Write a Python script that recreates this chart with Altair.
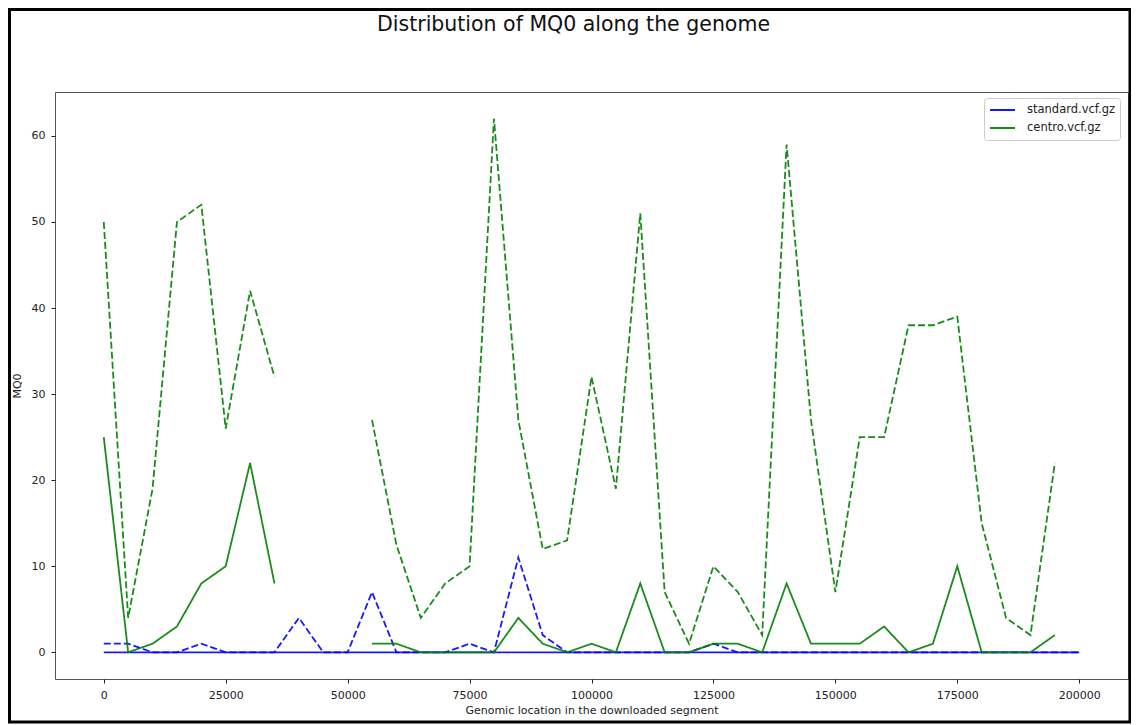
import altair as alt
import pandas as pd

# genomic windows (start of each 5 kb bin)
positions = [0, 5000, 10000, 15000, 20000, 25000, 30000, 35000, 40000, 45000,
             50000, 55000, 60000, 65000, 70000, 75000, 80000, 85000, 90000, 95000,
             100000, 105000, 110000, 115000, 120000, 125000, 130000, 135000, 140000, 145000,
             150000, 155000, 160000, 165000, 170000, 175000, 180000, 185000, 190000, 195000,
             200000]

standard_median = [0, 0, 0, 0, 0, 0, 0, 0, 0, 0,
                   0, 0, 0, 0, 0, 0, 0, 0, 0, 0,
                   0, 0, 0, 0, 0, 0, 0, 0, 0, 0,
                   0, 0, 0, 0, 0, 0, 0, 0, 0, 0,
                   0]
standard_top = [1, 1, 0, 0, 1, 0, 0, 0, 4, 0,
                0, 7, 0, 0, 0, 1, 0, 11, 2, 0,
                0, 0, 0, 0, 0, 1, 0, 0, 0, 0,
                0, 0, 0, 0, 0, 0, 0, 0, 0, 0,
                0]
centro_median = [25, 0, 1, 3, 8, 10, 22, 8, None, None,
                 None, 1, 1, 0, 0, 0, 0, 4, 1, 0,
                 1, 0, 8, 0, 0, 1, 1, 0, 8, 1,
                 1, 1, 3, 0, 1, 10, 0, 0, 0, 2,
                 None]
centro_top = [50, 4, 19, 50, 52, 26, 42, 32, None, None,
              None, 27, 12.5, 4, 8, 10, 62, 27, 12, 13,
              32, 19, 51, 7, 1, 10, 7, 2, 59, 27,
              7, 25, 25, 38, 38, 39, 15, 4, 2, 22,
              None]

files = ["standard.vcf.gz", "centro.vcf.gz"]
colors = ["#0000ff", "#008000"]


def to_rows(fname, stat, values):
    """long format rows, a new segment starts after every missing window"""
    rows = []
    seg = 0
    for pos, v in zip(positions, values):
        if v is None:
            seg += 1
            continue
        rows.append({"pos": pos, "MQ0": v, "file": fname, "stat": stat,
                     "line": f"{fname}-{stat}-{seg}"})
    return rows


rows = (to_rows(files[0], "median", standard_median) + to_rows(files[0], "top", standard_top)
        + to_rows(files[1], "median", centro_median) + to_rows(files[1], "top", centro_top))
df = pd.DataFrame(rows)

font = "DejaVu Sans"

x_enc = alt.X("pos:Q", scale=alt.Scale(domain=[-10000, 210000], nice=False, zero=False),
              axis=alt.Axis(values=[0, 25000, 50000, 75000, 100000, 125000, 150000, 175000, 200000],
                            format="d", title="Genomic location in the downloaded segment",
                            labelPadding=6, titlePadding=4))
y_enc = alt.Y("MQ0:Q", scale=alt.Scale(domain=[-3.1, 65.1], nice=False, zero=False),
              axis=alt.Axis(values=[0, 10, 20, 30, 40, 50, 60], title="MQ0",
                            labelPadding=6, titlePadding=9))
color_enc = alt.Color("file:N", scale=alt.Scale(domain=files, range=colors),
                      legend=alt.Legend(title=None, orient="none", legendX=929, legendY=6,
                                        symbolType="stroke", symbolSize=625, symbolStrokeWidth=2,
                                        clipHeight=14, rowPadding=4, labelOffset=11,
                                        padding=5, fillColor="white", strokeColor="#cccccc",
                                        cornerRadius=3, labelFont=font, labelFontSize=11.5,
                                        labelColor="#222222"))
dash_enc = alt.StrokeDash("stat:N", scale=alt.Scale(domain=["median", "top"], range=[[1, 0], [7, 3]]),
                          legend=None)


def series(fname):
    return (
        alt.Chart(df)
        .transform_filter(alt.datum.file == fname)
        .mark_line(strokeWidth=1.8, opacity=0.9)
        .encode(x=x_enc, y=y_enc, color=color_enc, strokeDash=dash_enc,
                detail="line:N", order="pos:Q")
    )


# black border round the whole figure
frame = (
    alt.Chart(pd.DataFrame({"k": [0]}))
    .mark_rect(fill="transparent", stroke="black", strokeWidth=3)
    .encode(x=alt.value(-45.5), x2=alt.value(1075), y=alt.value(-82.5), y2=alt.value(630))
)

chart = (
    alt.layer(series(files[0]), series(files[1]), frame)
    .properties(
        width=1073, height=587,
        autosize=alt.AutoSizeParams(type="none"),
        padding={"left": 47, "top": 84, "right": 3, "bottom": 45},
        title=alt.TitleParams("Distribution of MQ0 along the genome", anchor="middle", dx=-18,
                              offset=-27, font=font, fontSize=20.5, fontWeight="normal", color="#111111"),
    )
    .configure_view(stroke="#555555", strokeWidth=1)
    .configure_axis(grid=False, domain=False, tickSize=4, tickColor="#222222",
                    labelFont=font, labelFontSize=11, labelColor="#222222",
                    titleFont=font, titleFontSize=11, titleFontWeight="normal", titleColor="#222222")
)

chart.save("out.html", embed_options={"renderer": "svg", "actions": False})
